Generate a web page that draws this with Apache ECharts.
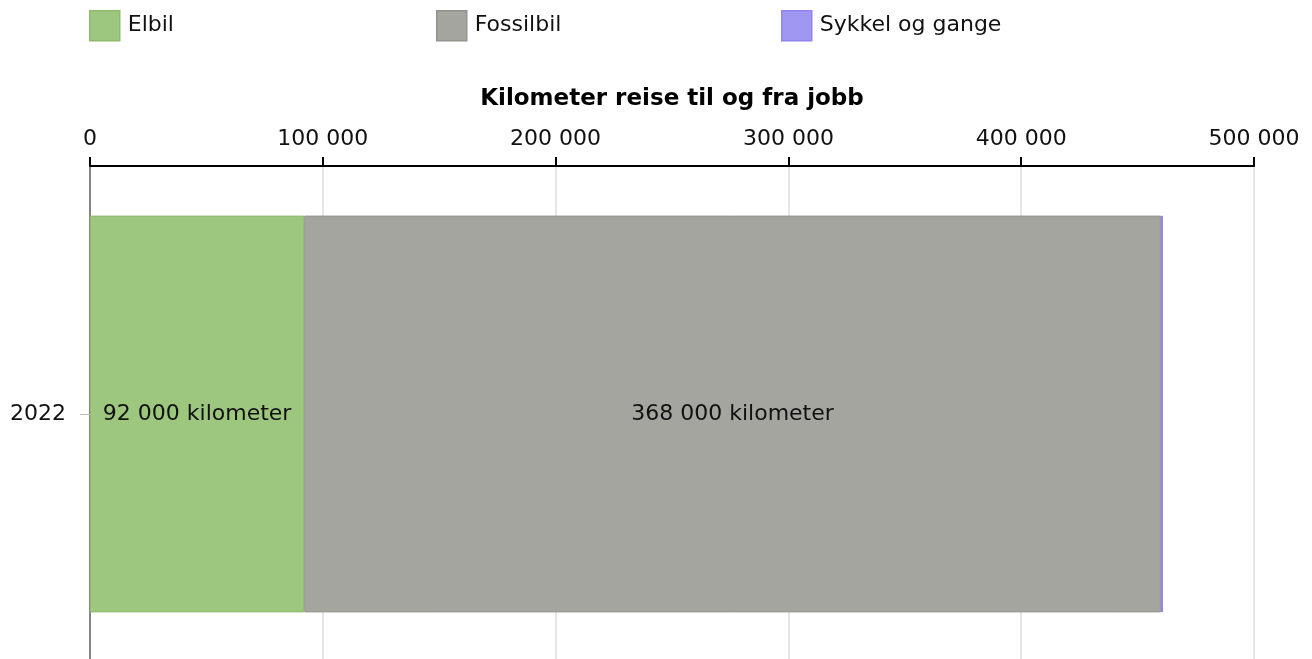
<!DOCTYPE html>
<html>
<head>
<meta charset="utf-8">
<script src="https://cdn.jsdelivr.net/npm/echarts@6/dist/echarts.min.js"></script>
<style>
    html, body { margin: 0; padding: 0; background: #fff; }
    #chart { width: 1312px; height: 659px; }
</style>
</head>
<body>
<div id="chart"></div>
<script>
// 数据
let categories = ['2022'];
let seriesNames = ['Elbil', 'Fossilbil', 'Sykkel og gange'];
let elbil = [92000];
let fossilbil = [368000];
let sykkel = [900];
let xTicks = [0, 100000, 200000, 300000, 400000, 500000];

let fontFamily = 'Verdana, "DejaVu Sans", sans-serif';
let colors = ['#9DC67F', '#A3A59E', '#A097F2'];
let borders = ['#8DBA6C', '#92958D', '#8F84F0'];
let legendLeft = [84, 431, 776];

// 千位空格分隔
function fmt(v) {
    return String(v).replace(/\B(?=(\d{3})+(?!\d))/g, ' ');
}

let seriesValues = [elbil, fossilbil, sykkel];
let series = seriesNames.map((name, i) => {
    return {
        type: 'bar',
        name: name,
        stack: 'total',
        barCategoryGap: '20%',
        itemStyle: {
            color: colors[i],
            borderColor: borders[i],
            borderWidth: 1
        },
        label: {
            show: i < 2,
            position: 'inside',
            color: '#111',
            fontFamily: fontFamily,
            fontSize: 22,
            formatter: (p) => fmt(p.value) + ' kilometer'
        },
        data: seriesValues[i]
    };
});

let legends = seriesNames.map((name, i) => {
    return {
        left: legendLeft[i],
        top: 5,
        icon: 'rect',
        itemWidth: 30,
        itemHeight: 30,
        itemGap: 0,
        selectedMode: false,
        itemStyle: {
            borderColor: borders[i],
            borderWidth: 1.5
        },
        textStyle: {
            fontFamily: fontFamily,
            fontSize: 22,
            color: '#111',
            padding: [0, 0, 0, 3]
        },
        data: [name]
    };
});

let option = {
    animation: false,
    color: colors,
    legend: legends,
    grid: {
        left: 90,
        right: 58,
        top: 166,
        height: 496,
        outerBoundsMode: 'none',
        containLabel: false
    },
    xAxis: {
        type: 'value',
        position: 'top',
        min: xTicks[0],
        max: xTicks[xTicks.length - 1],
        interval: xTicks[1] - xTicks[0],
        name: 'Kilometer reise til og fra jobb',
        nameLocation: 'middle',
        nameGap: 55,
        nameTextStyle: {
            fontFamily: fontFamily,
            fontSize: 23,
            fontWeight: 'bold',
            color: '#000'
        },
        axisLine: {
            show: true,
            lineStyle: { color: '#000', width: 2 }
        },
        axisTick: {
            show: true,
            length: 9,
            lineStyle: { color: '#000', width: 2 }
        },
        axisLabel: {
            margin: 16,
            fontFamily: fontFamily,
            fontSize: 22,
            color: '#111',
            formatter: (v) => fmt(v)
        },
        splitLine: {
            show: true,
            lineStyle: { color: '#dcdcdc', width: 1.5 }
        }
    },
    yAxis: {
        type: 'category',
        data: categories,
        axisLine: {
            show: true,
            lineStyle: { color: '#666', width: 1.5 }
        },
        axisTick: {
            show: true,
            alignWithLabel: true,
            length: 10,
            lineStyle: { color: '#bbb' }
        },
        axisLabel: {
            margin: 24,
            fontFamily: fontFamily,
            fontSize: 22,
            color: '#111'
        }
    },
    series: series
};

let myChart = echarts.init(document.getElementById('chart'));
myChart.setOption(option, true);
</script>
</body>
</html>
